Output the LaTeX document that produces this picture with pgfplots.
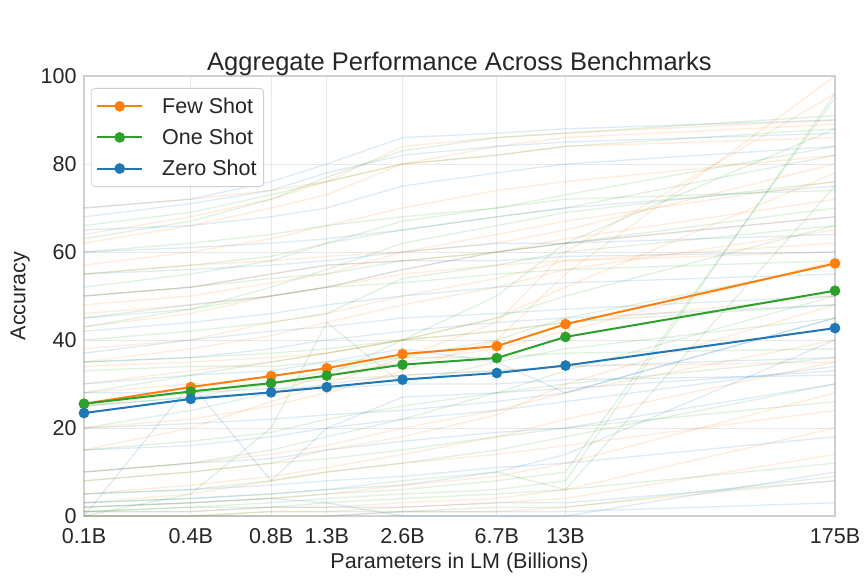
\documentclass[border=0pt]{standalone}
\usepackage{fontspec}
\setmainfont{Liberation Sans}
\usepackage{pgfplots}
\pgfplotsset{compat=1.18}
\definecolor{tabblue}{HTML}{1F77B4}
\definecolor{taborange}{HTML}{FF7F0E}
\definecolor{tabgreen}{HTML}{2CA02C}
\definecolor{textgray}{HTML}{262626}
\definecolor{gridgray}{HTML}{E8E8E8}
\definecolor{spinegray}{HTML}{D0D0D0}
\newcommand\bgline[9]{\addplot[#1] coordinates {(0.125,#2)(0.35,#3)(0.76,#4)(1.3,#5)(2.7,#6)(6.7,#7)(13,#8)(175,#9)};}
\begin{document}
\begin{tikzpicture}[x=1pt,y=1pt]
\path[use as bounding box] (0,0) rectangle (866,578);
\begin{axis}[
  at={(84pt,62pt)}, anchor=south west,
  width=751pt, height=440pt, scale only axis,
  xmode=log, xmin=0.125, xmax=175, ymin=0, ymax=100,
  xtick={0.125,0.35,0.76,1.3,2.7,6.7,13,175},
  xticklabels={0.1B,0.4B,0.8B,1.3B,2.6B,6.7B,13B,175B},
  minor xtick={},
  ytick={0,20,40,60,80,100},
  major tick length=0, minor tick length=0,
  grid=major, major grid style={color=gridgray, line width=0.9pt},
  axis line style={color=spinegray, line width=1.1pt},
  /pgf/number format/assume math mode=true,
  tick label style={font=\fontsize{21.5}{21.5}\selectfont, text=textgray},
  xticklabel style={yshift=-9pt},
  yticklabel style={xshift=-4pt},
  title={Aggregate Performance Across Benchmarks},
  title style={font=\fontsize{25.5}{26}\selectfont, text=textgray, at={(axis description cs:0.5,1)}, anchor=base, yshift=-1pt},
  xlabel={Parameters in LM (Billions)},
  xlabel style={font=\fontsize{21.5}{22}\selectfont, text=textgray, at={(axis description cs:0.5,0)}, anchor=base, yshift=-52pt},
  ylabel={Accuracy},
  ylabel style={font=\fontsize{21.5}{22}\selectfont, text=textgray, at={(axis description cs:-0.085,0.5)}, anchor=center, rotate=0},
  clip mode=individual,
  legend style={at={(0.009,0.973)}, anchor=north west, draw=spinegray, rounded corners=4pt, fill=white,
    font=\fontsize{21.5}{21.5}\selectfont, text=textgray, inner xsep=5pt, inner ysep=7.5pt, row sep=10pt,
    cells={anchor=west}, line width=0.9pt,
    /tikz/every odd column/.append style={column sep=17pt}},
  legend image code/.code={\draw[mark repeat=2,mark phase=2] plot coordinates {(0pt,0pt)(22.5pt,0pt)(45pt,0pt)};},
  bgO/.style={taborange, opacity=0.15, line width=1.3pt, forget plot, mark=none},
  bgG/.style={tabgreen, opacity=0.15, line width=1.3pt, forget plot, mark=none},
  bgB/.style={tabblue, opacity=0.15, line width=1.3pt, forget plot, mark=none},
]
% background per-benchmark lines (few shot)
\bgline{bgO}{64}{68}{72}{76}{84}{86}{87}{90}
\bgline{bgO}{62}{66}{70}{73}{80}{84}{86}{89}
\bgline{bgO}{43}{46}{50}{52}{56}{60}{63}{72}
\bgline{bgO}{50}{52}{55}{57}{58}{60}{62}{68}
\bgline{bgO}{35}{38}{41}{44}{48}{52}{56}{65}
\bgline{bgO}{30}{33}{35}{37}{40}{45}{52}{78}
\bgline{bgO}{25}{28}{30}{32}{35}{38}{42}{58}
\bgline{bgO}{55}{57}{58}{59}{60}{62}{65}{80}
\bgline{bgO}{20}{22}{25}{28}{33}{40}{55}{100}
\bgline{bgO}{10}{12}{14}{16}{20}{24}{28}{40}
\bgline{bgO}{5}{7}{9}{11}{14}{18}{22}{35}
\bgline{bgO}{2}{3}{4}{5}{7}{9}{12}{28}
\bgline{bgO}{1}{1}{2}{2}{3}{4}{6}{20}
\bgline{bgO}{0}{0}{1}{1}{2}{3}{4}{14}
\bgline{bgO}{46}{48}{50}{52}{55}{57}{58}{60}
\bgline{bgO}{34}{35}{36}{37}{40}{42}{44}{50}
\bgline{bgO}{15}{20}{26}{30}{36}{44}{60}{96}
\bgline{bgO}{28}{30}{30}{31}{32}{33}{34}{35}
\bgline{bgO}{8}{10}{12}{15}{18}{23}{30}{48}
\bgline{bgO}{70}{72}{74}{76}{80}{82}{84}{86}
\bgline{bgO}{38}{40}{44}{46}{50}{54}{58}{62}
\bgline{bgO}{0}{0}{0}{0}{1}{1}{2}{8}
\bgline{bgO}{3}{5}{8}{10}{12}{14}{16}{24}
\bgline{bgO}{57}{60}{63}{66}{70}{74}{76}{82}
\bgline{bgO}{48}{50}{53}{55}{60}{64}{67}{76}
% one shot
\bgline{bgG}{63}{67}{72}{77}{83}{86}{87}{91}
\bgline{bgG}{43}{47}{52}{56}{62}{66}{69}{76}
\bgline{bgG}{40}{42}{44}{46}{54}{57}{60}{66}
\bgline{bgG}{28}{32}{35}{37}{40}{45}{50}{66}
\bgline{bgG}{25}{27}{30}{33}{36}{40}{45}{57}
\bgline{bgG}{35}{36}{37}{38}{40}{42}{44}{48}
\bgline{bgG}{1}{2}{3}{4}{5}{6}{8}{96}
\bgline{bgG}{2}{3}{4}{5}{6}{8}{10}{95}
\bgline{bgG}{0}{5}{20}{44}{30}{35}{38}{45}
\bgline{bgG}{10}{12}{15}{18}{22}{28}{33}{50}
\bgline{bgG}{5}{6}{8}{10}{12}{15}{18}{30}
\bgline{bgG}{1}{2}{2}{3}{4}{5}{6}{12}
\bgline{bgG}{50}{52}{54}{55}{58}{60}{62}{70}
\bgline{bgG}{33}{34}{34}{35}{36}{36}{37}{38}
\bgline{bgG}{20}{24}{28}{32}{40}{50}{62}{88}
\bgline{bgG}{15}{17}{19}{22}{25}{28}{30}{36}
\bgline{bgG}{0}{0}{1}{1}{1}{2}{2}{9}
\bgline{bgG}{55}{57}{59}{62}{65}{68}{70}{82}
\bgline{bgG}{3}{4}{5}{6}{8}{10}{6}{75}
\bgline{bgG}{45}{47}{50}{52}{53}{55}{56}{58}
\bgline{bgG}{8}{10}{12}{13}{15}{18}{20}{26}
\bgline{bgG}{60}{62}{64}{66}{68}{70}{72}{74}
\bgline{bgG}{66}{69}{73}{76}{80}{82}{84}{88}
\bgline{bgG}{52}{55}{58}{62}{67}{70}{73}{84}
% zero shot
\bgline{bgB}{70}{72}{76}{80}{86}{87}{88}{90}
\bgline{bgB}{60}{61}{62}{63}{65}{68}{70}{75}
\bgline{bgB}{42}{44}{46}{48}{50}{52}{53}{55}
\bgline{bgB}{35}{36}{38}{40}{42}{44}{45}{48}
\bgline{bgB}{25}{27}{28}{30}{32}{33}{34}{36}
\bgline{bgB}{0}{30}{8}{20}{27}{28}{29}{33}
\bgline{bgB}{30}{32}{33}{35}{38}{35}{28}{45}
\bgline{bgB}{10}{12}{13}{15}{17}{19}{20}{30}
\bgline{bgB}{5}{6}{7}{8}{9}{11}{12}{18}
\bgline{bgB}{1}{1}{2}{2}{2}{3}{3}{8}
\bgline{bgB}{0}{0}{0}{0}{1}{1}{1}{3}
\bgline{bgB}{2}{3}{4}{3}{0}{0}{0}{10}
\bgline{bgB}{50}{52}{55}{57}{58}{58}{59}{60}
\bgline{bgB}{28}{28}{29}{29}{30}{30}{31}{32}
\bgline{bgB}{20}{21}{22}{23}{24}{26}{28}{45}
\bgline{bgB}{45}{48}{50}{52}{56}{60}{62}{68}
\bgline{bgB}{15}{16}{18}{20}{22}{24}{26}{34}
\bgline{bgB}{65}{66}{68}{70}{75}{78}{80}{84}
\bgline{bgB}{3}{4}{5}{6}{7}{10}{14}{40}
\bgline{bgB}{37}{40}{42}{43}{45}{46}{47}{50}
\bgline{bgB}{55}{56}{57}{58}{60}{62}{62}{64}
\bgline{bgB}{68}{71}{74}{78}{82}{84}{85}{87}
% aggregate lines
\addplot[taborange, line width=2pt, mark=*, mark size=4.3pt, mark options={solid, fill=taborange, draw=taborange}]
  coordinates {(0.125,25.5)(0.35,29.3)(0.76,31.8)(1.3,33.6)(2.7,36.8)(6.7,38.6)(13,43.6)(175,57.4)};
\addlegendentry{Few Shot}
\addplot[tabgreen, line width=2pt, mark=*, mark size=4.3pt, mark options={solid, fill=tabgreen, draw=tabgreen}]
  coordinates {(0.125,25.5)(0.35,28.3)(0.76,30.2)(1.3,31.9)(2.7,34.4)(6.7,35.9)(13,40.7)(175,51.2)};
\addlegendentry{One Shot}
\addplot[tabblue, line width=2pt, mark=*, mark size=4.3pt, mark options={solid, fill=tabblue, draw=tabblue}]
  coordinates {(0.125,23.4)(0.35,26.6)(0.76,28.1)(1.3,29.3)(2.7,31.0)(6.7,32.5)(13,34.2)(175,42.7)};
\addlegendentry{Zero Shot}
\end{axis}
\end{tikzpicture}
\end{document}
